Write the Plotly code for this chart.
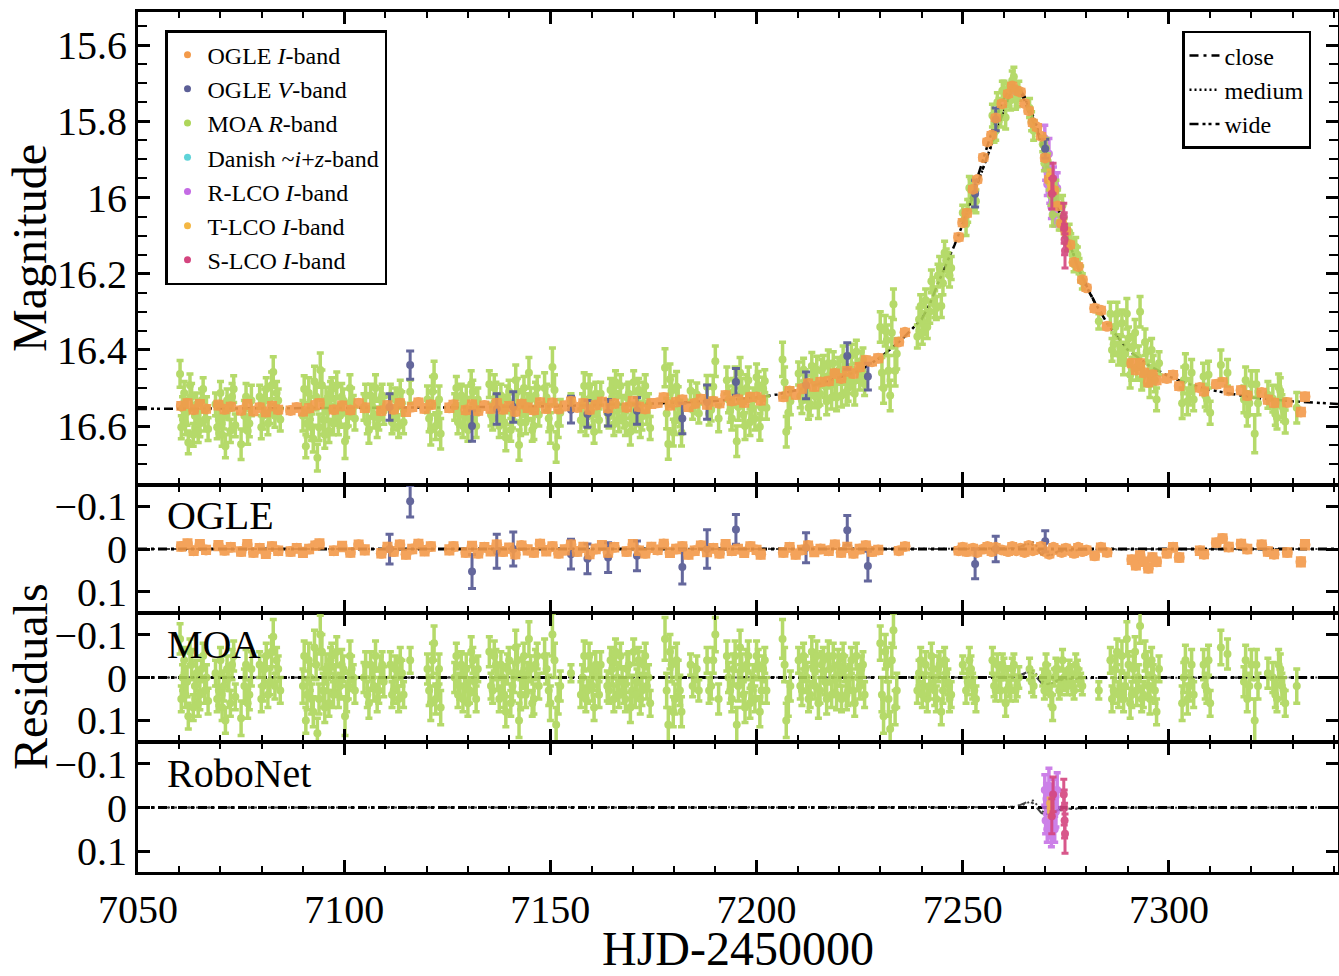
import plotly.graph_objects as go

# ---------------- data ----------------
# OGLE I-band
ogle_i_t = [7060.5, 7062, 7063.5, 7065, 7066.5, 7069.5, 7071, 7072.5,
            7075, 7076.5, 7078, 7079.5, 7081, 7082.5, 7084,
            7087, 7088.5, 7090, 7091.5, 7093, 7094,
            7097.5, 7099.5, 7101.5, 7103.5, 7105,
            7109, 7110.5, 7112, 7113.5, 7115, 7116.5, 7118, 7119.5, 7121,
            7125.5, 7126.5,
            7129.5, 7131, 7132.5, 7134, 7135.5, 7137, 7138.5, 7140, 7141.5, 7143, 7144.5, 7146, 7147.5,
            7149, 7150.5, 7152, 7153.5, 7155, 7156.5, 7158, 7159.5, 7161, 7162.5, 7164, 7165.5,
            7168.5, 7170, 7171.5, 7173, 7174.5, 7176, 7177.5, 7179, 7180.5, 7182, 7183.5, 7185,
            7186.5, 7188, 7189.5, 7191, 7192.5, 7194, 7195.5, 7197, 7198.5, 7200, 7201,
            7206.5, 7208, 7209.5, 7211, 7212.5, 7214, 7215.5,
            7217.5, 7219, 7220.5, 7222, 7223.5, 7225, 7226.5, 7228, 7229.5,
            7234.5, 7236,
            7249, 7250, 7251, 7252.5, 7253.5, 7255, 7256, 7257, 7258, 7259.5,
            7261, 7262, 7263, 7264, 7265, 7266, 7267, 7268, 7269, 7270, 7271, 7272, 7273, 7274,
            7275, 7276, 7277, 7278, 7279, 7280,
            7282, 7283.5, 7285,
            7291, 7292, 7293, 7294, 7295, 7296, 7297,
            7299.5, 7301, 7302.5,
            7307.5, 7308.5, 7311.5, 7313, 7314.5, 7317.5, 7319,
            7322.5, 7324, 7325.5, 7328.7, 7332, 7333]
ogle_i_mag = [16.547, 16.541, 16.557, 16.543, 16.555, 16.545, 16.556, 16.549,
              16.559, 16.543, 16.561, 16.551, 16.563, 16.547, 16.557,
              16.559, 16.551, 16.561, 16.553, 16.545, 16.541,
              16.557, 16.547, 16.558, 16.540, 16.552,
              16.560, 16.546, 16.556, 16.540, 16.562, 16.550, 16.538, 16.554, 16.544,
              16.552, 16.544,
              16.558, 16.544, 16.560, 16.546, 16.554, 16.540, 16.556, 16.548, 16.562, 16.542, 16.552, 16.558, 16.538,
              16.554, 16.539, 16.555, 16.547, 16.535, 16.551, 16.541, 16.557, 16.545, 16.537, 16.553, 16.541,
              16.551, 16.535, 16.549, 16.555, 16.541, 16.539, 16.525, 16.545, 16.537, 16.531, 16.549, 16.541,
              16.529, 16.543, 16.535, 16.540, 16.520, 16.534, 16.530, 16.538, 16.524, 16.524, 16.532,
              16.523, 16.508, 16.517, 16.502, 16.488, 16.496, 16.484,
              16.482, 16.462, 16.475, 16.456, 16.462, 16.445, 16.427, 16.431, 16.422,
              16.379, 16.354,
              16.104, 16.066, 16.041, 15.978, 15.953, 15.895, 15.854, 15.836, 15.791, 15.754,
              15.728, 15.707, 15.719, 15.723, 15.753, 15.772, 15.804, 15.815, 15.839, 15.896, 15.952, 15.981, 16.022, 16.068,
              16.088, 16.124, 16.170, 16.181, 16.216, 16.237,
              16.291, 16.296, 16.338,
              16.435, 16.453, 16.435, 16.460, 16.485, 16.465, 16.480,
              16.475, 16.466, 16.495,
              16.499, 16.509, 16.490, 16.485, 16.507, 16.506, 16.520,
              16.512, 16.531, 16.539, 16.538, 16.563, 16.523]
ogle_i_err = [0.007, 0.008, 0.007, 0.008, 0.007, 0.008, 0.007, 0.007,
              0.007, 0.008, 0.007, 0.007, 0.008, 0.007, 0.007,
              0.007, 0.007, 0.008, 0.007, 0.007, 0.008,
              0.007, 0.008, 0.007, 0.007, 0.008,
              0.007, 0.008, 0.007, 0.007, 0.008, 0.007, 0.007, 0.008, 0.007,
              0.008, 0.007,
              0.007, 0.008, 0.007, 0.007, 0.008, 0.007, 0.007, 0.008, 0.007, 0.007, 0.008, 0.007, 0.007,
              0.008, 0.007, 0.007, 0.008, 0.007, 0.007, 0.008, 0.007, 0.007, 0.008, 0.007, 0.007,
              0.007, 0.008, 0.007, 0.007, 0.008, 0.007, 0.007, 0.008, 0.007, 0.007, 0.008, 0.007,
              0.007, 0.008, 0.007, 0.007, 0.008, 0.007, 0.007, 0.008, 0.007, 0.007, 0.008,
              0.007, 0.007, 0.008, 0.007, 0.007, 0.008, 0.007,
              0.007, 0.007, 0.007, 0.008, 0.007, 0.007, 0.007, 0.007, 0.007,
              0.006, 0.006,
              0.006, 0.006, 0.006, 0.005, 0.005, 0.005, 0.005, 0.005, 0.005, 0.005,
              0.005, 0.005, 0.005, 0.005, 0.005, 0.005, 0.005, 0.005, 0.005, 0.005, 0.005, 0.005, 0.005, 0.005,
              0.005, 0.005, 0.005, 0.005, 0.005, 0.005,
              0.006, 0.006, 0.006,
              0.007, 0.007, 0.007, 0.007, 0.007, 0.007, 0.007,
              0.007, 0.007, 0.007,
              0.007, 0.007, 0.007, 0.007, 0.007, 0.007, 0.007,
              0.007, 0.007, 0.007, 0.007, 0.008, 0.008]
ogle_i_res = [-0.006, -0.012, 0.004, -0.010, 0.002, -0.008, 0.003, -0.004,
              0.006, -0.010, 0.008, -0.002, 0.010, -0.006, 0.004,
              0.006, -0.002, 0.008, 0.000, -0.008, -0.012,
              0.004, -0.006, 0.008, -0.010, 0.002,
              0.010, -0.004, 0.006, -0.010, 0.012, 0.000, -0.012, 0.004, -0.006,
              0.002, -0.006,
              0.008, -0.006, 0.010, -0.004, 0.004, -0.010, 0.006, -0.002, 0.012, -0.008, 0.002, 0.008, -0.012,
              0.004, -0.006, 0.010, 0.002, -0.010, 0.006, -0.004, 0.012, 0.000, -0.008, 0.008, -0.004,
              0.006, -0.010, 0.004, 0.010, -0.004, 0.002, -0.012, 0.008, 0.000, -0.006, 0.012, 0.004,
              -0.008, 0.006, -0.002, 0.010, -0.010, 0.004, 0.000, 0.008, -0.006, 0.002, 0.012,
              0.008, -0.004, 0.012, 0.002, -0.008, 0.006, 0.000,
              0.004, -0.010, 0.008, -0.004, 0.010, 0.000, -0.008, 0.006, 0.002,
              0.004, -0.006,
              0.004, -0.004, 0.006, -0.002, 0.008, 0.000, -0.006, 0.006, -0.004, 0.002,
              0.006, -0.006, 0.004, -0.002, 0.008, -0.008, 0.004, 0.000, -0.006, 0.006, 0.012, -0.004, 0.002, 0.008,
              -0.002, 0.004, 0.010, -0.004, 0.006, 0.002,
              0.016, -0.004, 0.008,
              0.025, 0.038, 0.015, 0.030, 0.045, 0.020, 0.030,
              0.010, -0.004, 0.020,
              0.004, 0.012, -0.015, -0.025, -0.005, -0.012, 0.000,
              -0.010, 0.006, 0.012, 0.008, 0.030, -0.010]

# OGLE V-band
ogle_v_t = [7111, 7116, 7131, 7137, 7141, 7155, 7159, 7164, 7171, 7182, 7188, 7195,
            7212, 7222, 7227, 7253, 7258, 7270]
ogle_v_mag = [16.550, 16.440, 16.600, 16.555, 16.550, 16.557, 16.568, 16.565, 16.560, 16.580,
              16.537, 16.484, 16.493, 16.416, 16.470, 15.990, 15.795, 15.872]
ogle_v_err = [0.035, 0.037, 0.040, 0.040, 0.040, 0.035, 0.035, 0.035, 0.035, 0.040,
              0.045, 0.035, 0.035, 0.035, 0.035, 0.035, 0.030, 0.025]
ogle_v_res = [0.000, -0.112, 0.053, 0.005, 0.000, 0.012, 0.023, 0.020, 0.016, 0.042,
              0.000, -0.046, -0.003, -0.044, 0.040, 0.035, 0.000, -0.018]

# MOA R-band (first block)
moa_t = [7060.2, 7060.8, 7061.5, 7062.2, 7063.0, 7063.8, 7064.6, 7065.4, 7066.2, 7067.0,
         7068.8, 7069.6, 7070.4, 7071.2, 7072.0, 7072.8, 7073.6,
         7075.0, 7075.8, 7076.6, 7077.5,
         7079.5, 7080.3, 7081.1, 7082.0, 7082.8, 7083.6, 7084.5,
         7090.0, 7090.7, 7091.4, 7092.1, 7092.8, 7093.5, 7094.2, 7094.9, 7095.6, 7096.3,
         7097.0, 7097.8, 7098.6, 7099.4, 7100.2, 7101.0, 7101.8, 7102.6,
         7104.8, 7105.6, 7106.4, 7107.2, 7108.0, 7108.8, 7109.6,
         7111.2, 7112.0, 7112.8, 7113.6, 7114.4, 7116.0,
         7120.2, 7121.0, 7121.8, 7122.6, 7123.4,
         7126.8, 7127.6, 7128.4, 7129.2, 7130.0, 7130.8, 7131.6, 7132.4,
         7135.2, 7136.0, 7136.8, 7137.6, 7138.4, 7139.2, 7140.0, 7140.8,
         7141.6, 7142.4, 7143.2, 7144.0, 7144.8, 7145.6, 7146.4, 7147.2,
         7148.6, 7149.6, 7150.5, 7151.4, 7152.4, 7155.0,
         7157.4, 7158.2, 7159.0, 7159.8, 7160.6, 7161.4, 7162.2,
         7163.8, 7164.6, 7165.4, 7166.2, 7167.0, 7167.8, 7168.6, 7169.4, 7170.2, 7171.0,
         7171.8, 7172.6, 7173.4, 7174.2,
         7177.8, 7178.6, 7179.4, 7180.2, 7181.0, 7181.8,
         7184.0, 7185.0, 7186.0, 7188.0, 7189.0, 7190.0, 7190.8,
         7192.8, 7193.6, 7194.4, 7195.2, 7196.0, 7196.8, 7197.6, 7198.4, 7199.2, 7200.0,
         7200.8, 7201.6, 7202.4,
         7206.3, 7207.2, 7208.2,
         7210.2, 7211.0, 7211.8, 7212.6, 7213.4, 7214.2, 7215.0, 7215.8, 7216.6, 7217.4,
         7218.2, 7219.0, 7219.8, 7220.6, 7221.4, 7222.2, 7223.0, 7223.8, 7224.6, 7225.4, 7226.2,
         7230.0, 7230.8, 7231.6, 7232.4, 7233.2, 7234.0,
         7239.0, 7239.8, 7240.6, 7241.4, 7242.4, 7243.2, 7244.0, 7244.8, 7245.6, 7246.4, 7247.2,
         7250.0, 7250.8, 7251.6, 7252.4, 7253.2,
         7257.2, 7258.0, 7258.8, 7259.6, 7260.4, 7261.2, 7262.0, 7262.8, 7263.6, 7266.2, 7267.2,
         7269.4, 7270.2, 7271.0, 7271.8, 7272.6, 7273.4, 7274.2, 7275.0, 7275.8, 7276.6,
         7277.4, 7278.2, 7279.0, 7283.0,
         7285.8, 7286.6, 7287.4, 7288.2, 7289.0, 7289.8, 7290.6, 7291.4, 7292.2, 7293.0,
         7293.8, 7294.6, 7295.4, 7296.2, 7297.0, 7297.6,
         7303.2, 7304.0, 7305.0, 7306.0, 7308.4, 7309.2, 7310.0, 7312.6, 7314.2,
         7318.2, 7319.0, 7320.0, 7320.8, 7321.6, 7324.0, 7325.8, 7326.6, 7327.4, 7328.2, 7331.0]
moa_mag = [16.463, 16.553, 16.593, 16.643, 16.523, 16.573, 16.613, 16.533, 16.583, 16.608,
           16.543, 16.583, 16.623, 16.653, 16.553, 16.523, 16.598,
           16.648, 16.573, 16.613, 16.533,
           16.523, 16.573, 16.503, 16.563, 16.458, 16.513, 16.583,
           16.573, 16.653, 16.513, 16.603, 16.483, 16.683, 16.453, 16.583, 16.533, 16.613,
           16.503, 16.553, 16.593, 16.523, 16.640, 16.570, 16.530, 16.580,
           16.550, 16.590, 16.520, 16.570, 16.600, 16.530, 16.560,
           16.520, 16.580, 16.550, 16.510, 16.590, 16.510,
           16.530, 16.610, 16.470, 16.570, 16.620,
           16.550, 16.590, 16.520, 16.570, 16.610, 16.490, 16.560, 16.530,
           16.490, 16.580, 16.520, 16.600, 16.550, 16.630, 16.510, 16.570,
           16.480, 16.650, 16.540, 16.590, 16.460, 16.610, 16.520, 16.570,
           16.500, 16.580, 16.445, 16.655, 16.565, 16.535,
           16.585, 16.495, 16.575, 16.525, 16.615, 16.545, 16.515,
           16.565, 16.505, 16.595, 16.545, 16.495, 16.575, 16.525, 16.615, 16.485, 16.555,
           16.595, 16.515, 16.565, 16.605,
           16.447, 16.647, 16.507, 16.587, 16.537, 16.617,
           16.507, 16.537, 16.567, 16.497, 16.557, 16.430, 16.580,
           16.480, 16.560, 16.510, 16.640, 16.460, 16.570, 16.500, 16.590, 16.530, 16.472,
           16.602, 16.502, 16.552,
           16.425, 16.615, 16.535,
           16.462, 16.532, 16.482, 16.552, 16.442, 16.522, 16.545, 16.455, 16.495, 16.435,
           16.525, 16.485, 16.455, 16.520, 16.450, 16.500, 16.415, 16.515, 16.455, 16.435, 16.490,
           16.340, 16.500, 16.375, 16.520, 16.280, 16.410,
           16.365, 16.285, 16.330, 16.340, 16.220, 16.280, 16.205, 16.285, 16.145, 16.175, 16.185,
           16.040, 16.070, 15.975, 16.005, 16.010,
           15.785, 15.825, 15.770, 15.720, 15.790, 15.737, 15.693, 15.743, 15.720, 15.765, 15.825,
           15.860, 15.870, 15.960, 16.045, 15.980, 16.065, 16.020, 16.100, 16.090, 16.150,
           16.130, 16.180, 16.220, 16.325,
           16.305, 16.385, 16.305, 16.395, 16.435, 16.305, 16.465, 16.390, 16.445, 16.300,
           16.465, 16.405, 16.490, 16.445, 16.530, 16.435,
           16.540, 16.445, 16.510, 16.530, 16.470, 16.530, 16.565, 16.440, 16.460,
           16.530, 16.570, 16.490, 16.620, 16.540, 16.518, 16.568, 16.498, 16.548, 16.588, 16.552]
moa_err = [0.035, 0.03, 0.03, 0.03, 0.035, 0.03, 0.03, 0.03, 0.03, 0.03,
           0.03, 0.035, 0.03, 0.03, 0.03, 0.035, 0.03,
           0.04, 0.04, 0.035, 0.04,
           0.03, 0.035, 0.03, 0.03, 0.04, 0.03, 0.03,
           0.04, 0.03, 0.04, 0.035, 0.04, 0.035, 0.045, 0.04, 0.035, 0.03,
           0.03, 0.03, 0.03, 0.035, 0.045, 0.03, 0.03, 0.03,
           0.035, 0.03, 0.03, 0.035, 0.03, 0.03, 0.035,
           0.03, 0.03, 0.035, 0.03, 0.03, 0.03,
           0.035, 0.04, 0.04, 0.03, 0.04,
           0.035, 0.03, 0.03, 0.035, 0.03, 0.035, 0.03, 0.03,
           0.035, 0.03, 0.035, 0.03, 0.03, 0.035, 0.03, 0.035,
           0.04, 0.04, 0.035, 0.03, 0.04, 0.03, 0.035, 0.03,
           0.04, 0.035, 0.05, 0.04, 0.035, 0.02,
           0.03, 0.035, 0.03, 0.035, 0.03, 0.03, 0.03,
           0.035, 0.03, 0.03, 0.035, 0.03, 0.03, 0.035, 0.035, 0.03, 0.03,
           0.035, 0.03, 0.03, 0.03,
           0.05, 0.04, 0.04, 0.035, 0.04, 0.035,
           0.025, 0.03, 0.025, 0.03, 0.03, 0.04, 0.035,
           0.035, 0.03, 0.035, 0.04, 0.04, 0.03, 0.035, 0.035, 0.03, 0.035,
           0.035, 0.03, 0.03,
           0.045, 0.04, 0.035,
           0.03, 0.035, 0.03, 0.03, 0.035, 0.03, 0.035, 0.03, 0.03, 0.035,
           0.03, 0.03, 0.035, 0.03, 0.03, 0.035, 0.03, 0.03, 0.03, 0.03, 0.03,
           0.04, 0.04, 0.04, 0.04, 0.04, 0.04,
           0.03, 0.03, 0.03, 0.03, 0.03, 0.035, 0.03, 0.03, 0.03, 0.03, 0.03,
           0.02, 0.03, 0.03, 0.03, 0.03,
           0.03, 0.025, 0.03, 0.025, 0.03, 0.025, 0.025, 0.025, 0.025, 0.025, 0.025,
           0.02, 0.025, 0.02, 0.03, 0.025, 0.02, 0.025, 0.02, 0.02, 0.02,
           0.025, 0.02, 0.02, 0.02,
           0.03, 0.03, 0.03, 0.035, 0.03, 0.04, 0.035, 0.03, 0.035, 0.04,
           0.03, 0.03, 0.035, 0.03, 0.03, 0.03,
           0.04, 0.035, 0.035, 0.03, 0.035, 0.03, 0.03, 0.04, 0.035,
           0.035, 0.03, 0.035, 0.05, 0.03, 0.035, 0.03, 0.035, 0.03, 0.03, 0.04]
moa_res = [-0.09, 0.0, 0.04, 0.09, -0.03, 0.02, 0.06, -0.02, 0.03, 0.055,
           -0.01, 0.03, 0.07, 0.1, 0.0, -0.03, 0.045,
           0.095, 0.02, 0.06, -0.02,
           -0.03, 0.02, -0.05, 0.01, -0.095, -0.04, 0.03,
           0.02, 0.1, -0.04, 0.05, -0.07, 0.13, -0.1, 0.03, -0.02, 0.06,
           -0.05, 0.0, 0.04, -0.03, 0.09, 0.02, -0.02, 0.03,
           0.0, 0.04, -0.03, 0.02, 0.05, -0.02, 0.01,
           -0.03, 0.03, 0.0, -0.04, 0.04, -0.04,
           -0.02, 0.06, -0.08, 0.02, 0.07,
           0.0, 0.04, -0.03, 0.02, 0.06, -0.06, 0.01, -0.02,
           -0.06, 0.03, -0.03, 0.05, 0.0, 0.08, -0.04, 0.02,
           -0.07, 0.1, -0.01, 0.04, -0.09, 0.06, -0.03, 0.02,
           -0.05, 0.03, -0.1, 0.11, 0.02, -0.01,
           0.04, -0.05, 0.03, -0.02, 0.07, 0.0, -0.03,
           0.02, -0.04, 0.05, 0.0, -0.05, 0.03, -0.02, 0.07, -0.06, 0.01,
           0.05, -0.03, 0.02, 0.06,
           -0.09, 0.11, -0.03, 0.05, 0.0, 0.08,
           -0.03, 0.0, 0.03, -0.04, 0.02, -0.1, 0.05,
           -0.05, 0.03, -0.02, 0.11, -0.07, 0.04, -0.03, 0.06, 0.0, -0.05,
           0.08, -0.02, 0.03,
           -0.09, 0.1, 0.02,
           -0.04, 0.03, -0.02, 0.05, -0.06, 0.02, 0.06, -0.03, 0.01, -0.05,
           0.04, 0.0, -0.03, 0.05, -0.02, 0.03, -0.04, 0.06, 0.0, -0.02, 0.04,
           -0.08, 0.09, -0.03, 0.12, -0.11, 0.03,
           0.03, -0.04, 0.02, 0.05, -0.05, 0.03, -0.02, 0.08, -0.04, 0.01, 0.04,
           -0.03, 0.03, -0.04, 0.02, 0.05,
           -0.04, 0.03, 0.0, -0.03, 0.06, 0.02, -0.02, 0.03, 0.0, -0.02, 0.02,
           0.0, -0.03, 0.02, 0.07, -0.02, 0.03, -0.04, 0.01, -0.02, 0.02,
           -0.03, 0.0, 0.02, 0.03,
           -0.04, 0.03, -0.06, 0.02, 0.05, -0.09, 0.06, -0.02, 0.03, -0.12,
           0.04, -0.03, 0.05, 0.0, 0.08, -0.02,
           0.06, -0.04, 0.02, 0.04, -0.03, 0.03, 0.06, -0.07, -0.055,
           0.01, 0.05, -0.03, 0.1, 0.02, -0.01, 0.04, -0.03, 0.02, 0.06, 0.02]

# MOA R-band (second block, same nights)
moa_b_t = [7060.5, 7061.2, 7061.9, 7062.6, 7063.4, 7064.2, 7065.0, 7065.8, 7066.6,
           7069.2, 7070.0, 7070.8, 7071.6, 7072.4, 7073.2, 7076.2, 7077.0,
           7079.9, 7080.7, 7081.5, 7082.4, 7083.2, 7084.0,
           7090.3, 7091.0, 7091.8, 7092.5, 7093.2, 7093.9, 7094.6, 7095.3, 7096.0, 7096.7,
           7097.4, 7098.2, 7099.0, 7099.8, 7100.6, 7101.4, 7102.2,
           7105.2, 7106.0, 7106.8, 7107.6, 7108.4, 7109.2,
           7111.6, 7112.4, 7113.2, 7114.0, 7120.6, 7121.4, 7122.2, 7123.0,
           7127.2, 7128.0, 7128.8, 7129.6, 7130.4, 7131.2, 7132.0,
           7135.6, 7136.4, 7137.2, 7138.0, 7138.8, 7139.6, 7140.4, 7141.2,
           7142.0, 7142.8, 7143.6, 7144.4, 7145.2, 7146.0, 7146.8,
           7149.1, 7150.0, 7151.0, 7151.9,
           7157.8, 7158.6, 7159.4, 7160.2, 7161.0, 7161.8,
           7164.2, 7165.0, 7165.8, 7166.6, 7167.4, 7168.2, 7169.0, 7169.8,
           7170.6, 7171.4, 7172.2, 7173.0, 7173.8,
           7178.2, 7179.0, 7179.8, 7180.6, 7181.4, 7184.5, 7185.5, 7188.5, 7189.5,
           7193.2, 7194.0, 7194.8, 7195.6, 7196.4, 7197.2, 7198.0, 7198.8, 7199.6,
           7200.4, 7201.2, 7202.0, 7206.8, 7207.7,
           7210.6, 7211.4, 7212.2, 7213.0, 7213.8, 7214.6,
           7215.4, 7216.2, 7217.0, 7217.8, 7218.6, 7219.4,
           7220.2, 7221.0, 7221.8, 7222.6, 7223.4, 7224.2, 7225.0, 7225.8,
           7230.4, 7231.2, 7232.0, 7232.8, 7233.6,
           7239.4, 7240.2, 7241.0, 7242.0, 7242.8, 7243.6, 7244.4, 7245.2, 7246.0, 7246.8,
           7251.2, 7252.0, 7252.8,
           7257.6, 7258.4, 7259.2, 7260.0, 7260.8, 7261.6, 7262.4, 7263.2, 7266.7,
           7269.8, 7270.6, 7271.4, 7272.2, 7273.0, 7273.8, 7274.6, 7275.4, 7276.2, 7277.0, 7277.8, 7278.6,
           7286.2, 7287.0, 7287.8, 7288.6, 7289.4, 7290.2, 7291.0, 7291.8,
           7292.6, 7293.4, 7294.2, 7295.0, 7295.8, 7296.6,
           7303.6, 7304.5, 7305.5, 7308.8, 7309.6,
           7318.6, 7319.5, 7321.2, 7325.2, 7326.2, 7327.0, 7327.8]
moa_b_res = [0.05, -0.04, 0.01, -0.06, 0.07, -0.01, 0.04, -0.05, 0.0,
             0.05, -0.04, 0.02, -0.02, 0.06, -0.05, -0.03, 0.04,
             0.05, -0.02, 0.04, -0.06, 0.02, -0.02,
             -0.05, 0.04, 0.0, 0.08, -0.03, 0.05, -0.06, 0.07, 0.0, -0.04,
             0.04, -0.06, 0.02, -0.02, 0.05, -0.05, 0.0,
             -0.03, 0.06, 0.0, -0.05, 0.03, -0.03,
             0.04, -0.02, 0.05, -0.01, 0.03, -0.04, 0.05, -0.02,
             -0.05, 0.02, 0.05, -0.02, 0.03, -0.04, 0.05,
             0.02, -0.05, 0.0, -0.03, 0.04, -0.02, 0.06, 0.0,
             -0.04, 0.04, -0.05, 0.0, -0.02, 0.05, -0.05,
             -0.02, 0.06, -0.04, 0.05,
             0.0, 0.05, -0.05, 0.02, -0.03, 0.04,
             0.03, -0.02, -0.06, 0.04, 0.01, 0.05, -0.03, 0.03,
             0.04, -0.04, 0.03, -0.05, 0.0,
             0.03, -0.06, 0.08, -0.04, 0.03, 0.02, -0.02, 0.03, -0.04,
             0.0, 0.05, -0.05, 0.02, -0.02, 0.07, -0.05, 0.02, 0.05,
             -0.03, 0.03, -0.04, -0.03, 0.05,
             0.02, -0.05, 0.0, 0.04, -0.02, -0.05,
             0.03, -0.04, 0.05, -0.02, -0.05, 0.04,
             -0.01, -0.05, 0.04, 0.0, 0.03, -0.05, 0.02, -0.03,
             0.04, -0.06, 0.05, -0.04, 0.07,
             -0.01, 0.04, -0.03, 0.02, -0.02, 0.05, -0.03, 0.03, -0.01, 0.05,
             0.01, -0.02, 0.03,
             0.02, -0.03, 0.03, -0.02, 0.0, 0.03, -0.03, 0.02, 0.01,
             0.03, -0.01, 0.04, 0.0, -0.02, 0.02, 0.0, 0.02, -0.01, 0.03, -0.02, 0.01,
             0.05, -0.02, 0.04, -0.05, 0.02, -0.03, 0.04, -0.06,
             0.0, 0.05, -0.05, 0.02, -0.04, 0.03,
             0.0, 0.05, -0.03, 0.02, -0.04,
             -0.04, 0.02, -0.03, 0.0, 0.05, -0.02, 0.03]
moa_b_mag = [16.603, 16.513, 16.563, 16.493, 16.623, 16.543, 16.593, 16.503, 16.553,
             16.603, 16.513, 16.573, 16.533, 16.613, 16.503, 16.523, 16.593,
             16.603, 16.533, 16.593, 16.493, 16.573, 16.533,
             16.503, 16.593, 16.553, 16.633, 16.523, 16.603, 16.493, 16.623, 16.553, 16.513,
             16.593, 16.493, 16.573, 16.533, 16.600, 16.500, 16.550,
             16.520, 16.610, 16.550, 16.500, 16.580, 16.520,
             16.590, 16.530, 16.600, 16.540, 16.580, 16.510, 16.600, 16.530,
             16.500, 16.570, 16.600, 16.530, 16.580, 16.510, 16.600,
             16.570, 16.500, 16.550, 16.520, 16.590, 16.530, 16.610, 16.550,
             16.510, 16.590, 16.500, 16.550, 16.530, 16.600, 16.500,
             16.525, 16.605, 16.505, 16.595,
             16.545, 16.595, 16.495, 16.565, 16.515, 16.585,
             16.575, 16.525, 16.485, 16.585, 16.555, 16.595, 16.515, 16.575,
             16.585, 16.505, 16.575, 16.495, 16.545,
             16.567, 16.477, 16.617, 16.497, 16.567, 16.557, 16.517, 16.567, 16.497,
             16.530, 16.580, 16.480, 16.550, 16.510, 16.600, 16.480, 16.550, 16.580,
             16.492, 16.552, 16.482, 16.485, 16.565,
             16.522, 16.452, 16.502, 16.542, 16.482, 16.452,
             16.515, 16.445, 16.535, 16.465, 16.435, 16.525,
             16.460, 16.420, 16.510, 16.470, 16.485, 16.405, 16.475, 16.425,
             16.460, 16.350, 16.455, 16.355, 16.455,
             16.320, 16.355, 16.270, 16.300, 16.240, 16.290, 16.185, 16.225, 16.165, 16.205,
             16.035, 15.980, 16.000,
             15.830, 15.750, 15.790, 15.720, 15.725, 15.745, 15.683, 15.737, 15.800,
             15.910, 15.905, 15.995, 15.990, 16.000, 16.065, 16.075, 16.120, 16.115, 16.175, 16.150, 16.200,
             16.400, 16.340, 16.410, 16.330, 16.410, 16.370, 16.450, 16.355,
             16.420, 16.475, 16.380, 16.460, 16.400, 16.480,
             16.480, 16.535, 16.460, 16.520, 16.465,
             16.480, 16.540, 16.490, 16.528, 16.578, 16.508, 16.558]
moa_b_err = [0.03, 0.03, 0.035, 0.03, 0.03, 0.03, 0.035, 0.03, 0.03,
             0.03, 0.03, 0.035, 0.03, 0.03, 0.035, 0.035, 0.035,
             0.03, 0.03, 0.03, 0.035, 0.03, 0.03,
             0.035, 0.035, 0.03, 0.035, 0.035, 0.035, 0.04, 0.035, 0.03, 0.03,
             0.03, 0.035, 0.03, 0.03, 0.03, 0.035, 0.03,
             0.03, 0.035, 0.03, 0.035, 0.03, 0.03,
             0.03, 0.03, 0.03, 0.03, 0.035, 0.04, 0.035, 0.035,
             0.03, 0.03, 0.03, 0.035, 0.03, 0.03, 0.03,
             0.03, 0.035, 0.03, 0.03, 0.03, 0.035, 0.03, 0.035,
             0.035, 0.035, 0.03, 0.035, 0.03, 0.035, 0.03,
             0.035, 0.04, 0.04, 0.035,
             0.03, 0.03, 0.03, 0.035, 0.03, 0.03,
             0.03, 0.035, 0.03, 0.03, 0.035, 0.03, 0.03, 0.035,
             0.03, 0.03, 0.035, 0.03, 0.03,
             0.04, 0.04, 0.035, 0.04, 0.035, 0.025, 0.03, 0.03, 0.03,
             0.035, 0.03, 0.035, 0.035, 0.035, 0.035, 0.035, 0.03, 0.03,
             0.035, 0.03, 0.03, 0.04, 0.04,
             0.03, 0.03, 0.035, 0.03, 0.03, 0.035,
             0.03, 0.03, 0.035, 0.03, 0.03, 0.035,
             0.03, 0.03, 0.035, 0.03, 0.03, 0.03, 0.03, 0.03,
             0.04, 0.04, 0.04, 0.04, 0.04,
             0.03, 0.03, 0.03, 0.03, 0.03, 0.03, 0.03, 0.03, 0.03, 0.03,
             0.03, 0.03, 0.03,
             0.025, 0.025, 0.025, 0.025, 0.025, 0.025, 0.025, 0.025, 0.025,
             0.02, 0.02, 0.025, 0.02, 0.02, 0.02, 0.02, 0.02, 0.02, 0.02, 0.02, 0.02,
             0.03, 0.03, 0.03, 0.035, 0.03, 0.03, 0.03, 0.035,
             0.03, 0.03, 0.035, 0.03, 0.03, 0.03,
             0.035, 0.035, 0.035, 0.03, 0.035,
             0.035, 0.03, 0.035, 0.035, 0.03, 0.035, 0.03]

# Danish ~i+z-band (hidden under the peak)
dan_t = [7262.0, 7263.0]
dan_mag = [15.715, 15.720]
dan_err = [0.010, 0.010]

# R-LCO I-band
rlco_t = [7269.9, 7270.1, 7270.3, 7270.5, 7270.7, 7270.9, 7271.1, 7271.3, 7271.5, 7271.7,
          7272.0, 7272.3, 7272.6, 7272.9]
rlco_mag = [15.845, 15.925, 15.885, 15.965, 15.925, 15.885, 15.985, 15.945, 16.025, 15.995,
            15.955, 16.045, 16.015, 15.975]
rlco_err = [0.035, 0.03, 0.035, 0.03, 0.035, 0.04, 0.03, 0.035, 0.03, 0.035,
            0.035, 0.03, 0.035, 0.04]
rlco_res = [-0.04, 0.03, -0.02, 0.05, 0.0, -0.05, 0.04, -0.01, 0.06, 0.02,
            -0.03, 0.05, 0.01, -0.04]

# T-LCO I-band
tlco_t = [7271.2, 7271.4]
tlco_mag = [15.940, 15.970]
tlco_err = [0.012, 0.012]
tlco_res = [-0.01, 0.01]

# S-LCO I-band
slco_t = [7271.6, 7271.9, 7274.5, 7274.6, 7274.7, 7274.8]
slco_mag = [15.990, 15.950, 16.050, 16.080, 16.110, 16.140]
slco_err = [0.04, 0.04, 0.035, 0.04, 0.04, 0.045]
slco_res = [0.02, -0.03, -0.03, 0.0, 0.03, 0.06]

# Models (main panel)
wide_t = [7050, 7075, 7100, 7125, 7150, 7175, 7190, 7200, 7205, 7210, 7215, 7220, 7225, 7230,
          7235, 7240, 7242, 7244, 7246, 7248, 7250, 7252, 7254, 7256, 7258, 7260, 7261, 7262,
          7263, 7264, 7265, 7266, 7267, 7268, 7269, 7270, 7271, 7272, 7273, 7274, 7275, 7276,
          7278, 7280, 7282, 7285, 7290, 7295, 7300, 7305, 7310, 7320, 7330, 7341]
wide_mag = [16.555, 16.554, 16.553, 16.551, 16.548, 16.541, 16.534, 16.525, 16.517, 16.505,
            16.490, 16.472, 16.455, 16.420, 16.375, 16.320, 16.280, 16.225, 16.175, 16.125,
            16.070, 16.000, 15.935, 15.865, 15.795, 15.740, 15.722, 15.713, 15.715, 15.725,
            15.745, 15.775, 15.800, 15.820, 15.850, 15.890, 15.940, 15.985, 16.020, 16.060,
            16.090, 16.120, 16.185, 16.235, 16.275, 16.330, 16.400, 16.440, 16.470, 16.490,
            16.505, 16.525, 16.535, 16.542]
peak_t = [7250, 7262, 7264, 7265, 7266, 7267, 7268, 7269, 7270, 7271, 7272, 7273, 7275, 7278, 7282]
close_mag = [16.070, 15.711, 15.719, 15.735, 15.761, 15.790, 15.820, 15.862, 15.908, 15.954,
             15.995, 16.026, 16.093, 16.186, 16.275]
medium_mag = [16.070, 15.712, 15.721, 15.737, 15.763, 15.784, 15.814, 15.856, 15.904, 15.956,
              15.997, 16.028, 16.094, 16.187, 16.276]

# Model differences (residual panels)
dev_t = [7050, 7250, 7262, 7264, 7265, 7266, 7267, 7268, 7269, 7270, 7271, 7272, 7273, 7275,
         7278, 7282, 7341]
close_dev = [0.0, 0.0, -0.002, -0.006, -0.010, -0.014, -0.010, 0.000, 0.012, 0.018, 0.014,
             0.010, 0.006, 0.003, 0.001, 0.0, 0.0]
medium_dev = [0.0, 0.0, -0.001, -0.004, -0.008, -0.012, -0.016, -0.006, 0.006, 0.014, 0.016,
              0.012, 0.008, 0.004, 0.002, 0.001, 0.0]
wide_dev_t = [7050, 7341]
wide_dev = [0.0, 0.0]

main_ticks = [15.6, 15.8, 16.0, 16.2, 16.4, 16.6]
main_ticktext = ["15.6", "15.8", "16", "16.2", "16.4", "16.6"]
res_ticks = [-0.1, 0.0, 0.1]
res_ticktext = ["\u22120.1", "0", "0.1"]
x_ticks = [7050, 7100, 7150, 7200, 7250, 7300]

# ---------------- styles ----------------
FONT = "Liberation Serif"
C_OI = "#F39A4A"
C_OV = "#5C5F97"
C_MOA = "#AED65A"
C_DAN = "#5ED3D8"
C_RL = "#C46BE4"
C_TL = "#F4B743"
C_SL = "#D4457F"

DASH_CLOSE = "9px,5px,3px,5px"
DASH_MED = "2px,3px"
DASH_WIDE = "9px,4px,3px,3px,3px,4px"

fig = go.Figure()


def pts(t, y, e, color, name, xa, ya, size, thick, capw, op):
    fig.add_trace(go.Scatter(
        x=t, y=y, mode="markers", name=name, xaxis=xa, yaxis=ya,
        marker=dict(color=color, size=size, line=dict(width=0)),
        error_y=dict(type="data", array=e, visible=True, color=color,
                     thickness=thick, width=capw),
        opacity=op, showlegend=False, hoverinfo="skip"))


def legpt(color, name, rank):
    fig.add_trace(go.Scatter(
        x=[None], y=[None], mode="markers", name=name,
        marker=dict(color=color, size=7, line=dict(width=0)),
        showlegend=True, legendrank=rank, legend="legend", hoverinfo="skip"))


def line(t, y, dash, name, xa, ya, legend, rank, color="black", width=2.5):
    fig.add_trace(go.Scatter(
        x=t, y=y, mode="lines", name=name, xaxis=xa, yaxis=ya,
        line=dict(color=color, width=width, dash=dash),
        showlegend=legend, legendrank=rank, legend="legend2", hoverinfo="skip"))


# model curves (main)
line(peak_t, close_mag, DASH_CLOSE, "close", "x", "y", False, 10)
line(peak_t, medium_mag, DASH_MED, "medium", "x", "y", False, 20)
line(wide_t, wide_mag, DASH_WIDE, "wide", "x", "y", False, 30)
# legend-only copies
line([None], [None], DASH_CLOSE, "close", "x", "y", True, 10)
line([None], [None], DASH_MED, "medium", "x", "y", True, 20)
line([None], [None], DASH_WIDE, "wide", "x", "y", True, 30)

# residual panel model lines
for ya, xa in (("y2", "x2"), ("y3", "x3"), ("y4", "x4")):
    line(dev_t, close_dev, DASH_CLOSE, "close", xa, ya, False, 10, color="#444444", width=2)
    line(dev_t, medium_dev, DASH_MED, "medium", xa, ya, False, 20, color="#444444", width=2)
    line(wide_dev_t, wide_dev, "9px,4px,3px,4px", "wide", xa, ya, False, 30, width=3)

moa_all_t = moa_t + moa_b_t
moa_all_mag = moa_mag + moa_b_mag
moa_all_err = moa_err + moa_b_err
moa_all_res = moa_res + moa_b_res

# main panel data
pts(dan_t, dan_mag, dan_err, C_DAN, "Danish", "x", "y", 7, 2.5, 3, 0.85)
pts(rlco_t, rlco_mag, rlco_err, C_RL, "R-LCO", "x", "y", 8, 3.5, 3.5, 0.85)
pts(moa_all_t, moa_all_mag, moa_all_err, C_MOA, "MOA", "x", "y", 8, 3.5, 3.5, 0.9)
pts(ogle_v_t, ogle_v_mag, ogle_v_err, C_OV, "OGLE V", "x", "y", 8, 3, 4, 0.95)
pts(ogle_i_t, ogle_i_mag, ogle_i_err, C_OI, "OGLE I", "x", "y", 11, 4.5, 5, 0.9)
pts(tlco_t, tlco_mag, tlco_err, C_TL, "T-LCO", "x", "y", 8, 3, 3.5, 0.85)
pts(slco_t, slco_mag, slco_err, C_SL, "S-LCO", "x", "y", 8, 3, 3.5, 0.9)

# residual panels
pts(ogle_v_t, ogle_v_res, ogle_v_err, C_OV, "OGLE V", "x2", "y2", 8, 3, 4, 0.95)
pts(ogle_i_t, ogle_i_res, ogle_i_err, C_OI, "OGLE I", "x2", "y2", 11, 4.5, 5, 0.9)
pts(moa_all_t, moa_all_res, moa_all_err, C_MOA, "MOA", "x3", "y3", 8, 3.5, 3.5, 0.9)
pts(rlco_t, rlco_res, rlco_err, C_RL, "R-LCO", "x4", "y4", 8, 3.5, 3.5, 0.85)
pts(tlco_t, tlco_res, tlco_err, C_TL, "T-LCO", "x4", "y4", 8, 3, 3.5, 0.85)
pts(slco_t, slco_res, slco_err, C_SL, "S-LCO", "x4", "y4", 8, 3, 3.5, 0.9)

# legend entries
legpt(C_OI, "OGLE <i>I</i>-band", 1)
legpt(C_OV, "OGLE <i>V</i>-band", 2)
legpt(C_MOA, "MOA <i>R</i>-band", 3)
legpt(C_DAN, "Danish ~<i>i</i>+<i>z</i>-band", 4)
legpt(C_RL, "R-LCO <i>I</i>-band", 5)
legpt(C_TL, "T-LCO <i>I</i>-band", 6)
legpt(C_SL, "S-LCO <i>I</i>-band", 7)

# ---------------- layout ----------------
tickfont = dict(family=FONT, size=40, color="black")


def xax(anchor, labels):
    d = dict(range=[7050, 7341], anchor=anchor, domain=[0, 1],
             showline=True, linecolor="black", linewidth=3, mirror="allticks",
             ticks="inside", ticklen=12, tickwidth=2.5, tickcolor="black",
             tickmode="array", tickvals=x_ticks, showticklabels=labels,
             tickfont=tickfont, automargin=False,
             minor=dict(ticks="inside", ticklen=6, tickwidth=2, tickcolor="black",
                        dtick=10, tick0=7050),
             showgrid=False, zeroline=False)
    if anchor != "y":
        d["matches"] = "x"
    return d


def resax(anchor, dom):
    return dict(range=[0.148, -0.148], anchor=anchor, domain=dom,
                showline=True, linecolor="black", linewidth=3, mirror="allticks",
                ticks="inside", ticklen=12, tickwidth=2.5, tickcolor="black",
                tickmode="array", tickvals=res_ticks, ticktext=res_ticktext,
                tickfont=tickfont, showgrid=False, zeroline=False, automargin=False)


legfont = dict(family=FONT, size=24, color="black")
fig.update_layout(
    width=1339, height=976,
    margin=dict(l=138, r=1, t=12, b=104),
    paper_bgcolor="white", plot_bgcolor="white",
    font=dict(family=FONT, color="black"),
    xaxis=xax("y", False), xaxis2=xax("y2", False), xaxis3=xax("y3", False), xaxis4=xax("y4", True),
    yaxis=dict(range=[16.752, 15.513], anchor="x", domain=[0.4512, 1.0],
               showline=True, linecolor="black", linewidth=3, mirror="allticks",
               ticks="inside", ticklen=12, tickwidth=2.5, tickcolor="black",
               tickmode="array", tickvals=main_ticks, ticktext=main_ticktext,
               tickfont=tickfont, automargin=False,
               minor=dict(ticks="inside", ticklen=9, tickwidth=2, tickcolor="black",
                          dtick=0.05, tick0=15.6),
               showgrid=False, zeroline=False),
    yaxis2=resax("x2", [0.3023, 0.4488]),
    yaxis3=resax("x3", [0.1523, 0.3]),
    yaxis4=resax("x4", [0.0, 0.15]),
    showlegend=True,
    legend=dict(x=0.0225, y=0.979, xanchor="left", yanchor="top", bgcolor="white",
                bordercolor="black", borderwidth=2.5, font=legfont,
                traceorder="normal", itemwidth=30, tracegroupgap=0),
    legend2=dict(x=0.9775, y=0.978, xanchor="right", yanchor="top", bgcolor="white",
                 bordercolor="black", borderwidth=2.5, font=legfont,
                 traceorder="normal", itemwidth=30, tracegroupgap=0),
    annotations=[
        dict(text="Magnitude", xref="paper", yref="paper", x=-0.09, y=0.7256,
             xanchor="center", yanchor="middle", textangle=-90, showarrow=False,
             font=dict(family=FONT, size=48, color="black")),
        dict(text="Residuals", xref="paper", yref="paper", x=-0.09, y=0.2267,
             xanchor="center", yanchor="middle", textangle=-90, showarrow=False,
             font=dict(family=FONT, size=48, color="black")),
        dict(text="HJD-2450000", xref="paper", yref="paper", x=0.5, y=-0.0884,
             xanchor="center", yanchor="middle", showarrow=False,
             font=dict(family=FONT, size=48, color="black")),
        dict(text="OGLE", xref="paper", yref="paper", x=0.0225, y=0.414,
             xanchor="left", yanchor="middle", showarrow=False,
             font=dict(family=FONT, size=40, color="black")),
        dict(text="MOA", xref="paper", yref="paper", x=0.0225, y=0.264,
             xanchor="left", yanchor="middle", showarrow=False,
             font=dict(family=FONT, size=40, color="black")),
        dict(text="RoboNet", xref="paper", yref="paper", x=0.0225, y=0.115,
             xanchor="left", yanchor="middle", showarrow=False,
             font=dict(family=FONT, size=40, color="black")),
    ],
)

fig.write_html("out.html", config={"displayModeBar": False},
               post_script="document.body.style.margin='0px';document.body.style.padding='0px';")
